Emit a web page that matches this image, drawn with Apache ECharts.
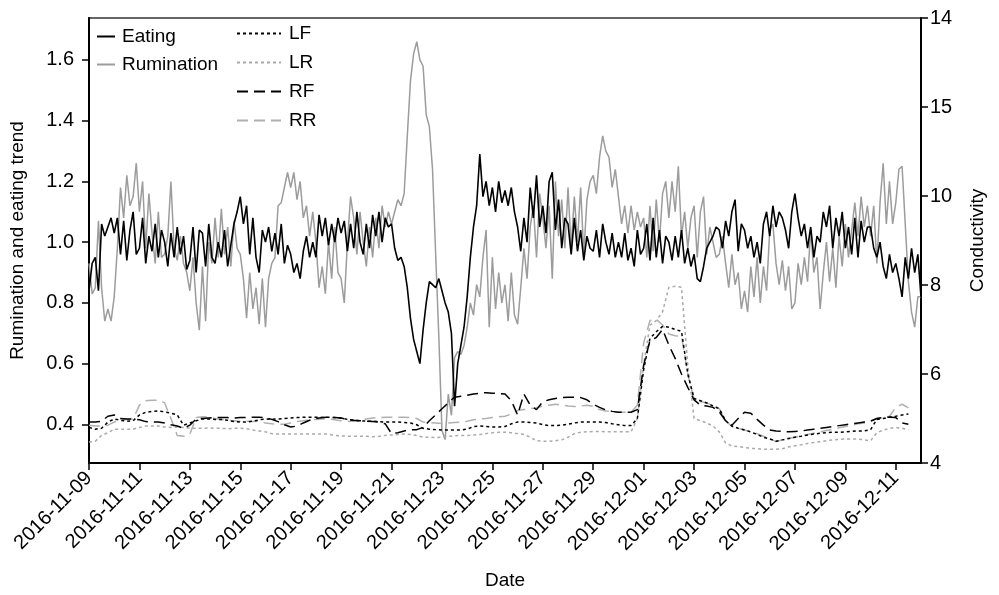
<!DOCTYPE html>
<html><head><meta charset="utf-8">
<script src="https://cdn.jsdelivr.net/npm/echarts@6/dist/echarts.min.js"></script>
<style>html,body{margin:0;padding:0;background:#fff}#c{width:999px;height:595px}</style>
</head><body><div id="c"></div>
<script>
const startDate = '2016-11-09';
const endDate = '2016-12-12';
const xTickLabels = ['2016-11-09','2016-11-11','2016-11-13','2016-11-15','2016-11-17','2016-11-19','2016-11-21','2016-11-23','2016-11-25','2016-11-27','2016-11-29','2016-12-01','2016-12-03','2016-12-05','2016-12-07','2016-12-09','2016-12-11'];
const leftTicks = [0.4, 0.6, 0.8, 1.0, 1.2, 1.4, 1.6];
const rightTickLabels = ['4','6','8','10','15','14'];
const trendStepHours = 3;
const condStepHours = 6;

const eating = [
0.84,0.93,0.95,0.84,1.06,1.02,1.05,1.08,
1.03,1.08,0.96,1.07,0.94,1.04,1.10,0.96,
0.98,1.08,0.93,1.02,0.97,1.06,0.95,1.04,
1.00,0.92,1.03,0.95,1.05,0.96,1.02,0.91,
0.94,1.05,0.90,1.04,1.03,0.92,1.06,0.95,
0.93,1.00,0.95,1.04,0.92,0.99,1.06,1.10,
1.15,1.06,1.12,0.96,1.08,0.95,0.90,1.04,
1.00,1.05,0.97,1.03,0.96,1.06,0.93,0.99,
0.96,0.90,0.93,0.88,0.97,1.02,0.95,1.00,
0.95,1.09,1.02,1.08,0.99,1.06,1.00,1.08,
1.03,1.07,0.97,1.06,0.98,1.10,1.00,0.96,
1.06,0.98,1.09,1.02,1.10,1.00,1.08,1.05,
1.06,0.98,0.94,0.95,0.92,0.85,0.75,0.68,
0.64,0.60,0.71,0.80,0.87,0.86,0.85,0.88,
0.84,0.80,0.77,0.70,0.46,0.60,0.66,0.72,
0.82,0.95,1.05,1.12,1.29,1.15,1.20,1.12,
1.18,1.10,1.20,1.13,1.17,1.12,1.18,1.10,
1.05,0.97,1.08,1.00,1.18,1.08,1.22,1.05,
1.12,1.03,1.20,1.23,1.04,1.14,0.98,1.08,
1.06,0.96,1.08,0.97,1.04,0.94,1.02,0.98,
0.97,1.04,0.95,1.06,1.00,0.96,1.03,0.95,
1.00,0.95,1.03,0.94,0.98,0.92,1.04,0.96,
0.98,1.06,0.94,1.08,0.95,1.04,0.93,1.02,
1.00,0.94,1.02,0.95,1.04,0.93,0.98,0.92,
0.96,0.88,0.87,0.92,0.98,1.00,1.02,1.05,
1.04,0.98,1.07,1.02,1.10,1.14,0.97,1.06,
1.04,0.98,1.02,0.95,1.00,0.93,1.06,1.10,
1.02,1.12,1.05,1.10,1.08,1.04,0.98,1.10,
1.16,1.08,1.02,1.06,0.98,1.05,0.95,1.02,
1.00,1.10,1.05,1.12,0.98,1.08,1.02,1.10,
0.98,1.05,0.96,1.08,0.95,1.07,1.00,1.05,
1.05,0.98,0.95,1.00,0.92,0.88,0.96,0.90,
0.93,0.88,0.82,0.95,0.88,0.98,0.90,0.96,
0.82];

const rumination = [
0.93,0.83,0.85,1.07,0.85,0.74,0.78,0.74,
0.82,0.98,1.18,1.08,1.22,1.12,1.15,1.26,
1.10,1.20,0.98,1.16,1.03,0.93,1.10,0.95,
0.96,1.02,1.20,0.98,0.94,1.02,0.93,0.90,
0.84,0.95,0.80,0.71,0.92,0.74,1.00,0.93,
1.08,0.95,1.11,0.96,1.05,0.92,1.07,0.98,
0.96,0.88,0.75,0.90,0.78,0.85,0.73,0.88,
0.72,0.88,0.93,0.95,1.12,1.13,1.18,1.23,
1.18,1.23,1.14,1.20,1.08,1.12,1.02,1.10,
1.00,0.85,0.92,0.83,1.00,0.88,1.05,0.90,
0.88,0.80,1.00,1.15,1.08,0.96,1.10,1.00,
0.92,1.05,0.95,1.08,0.98,1.12,1.05,1.10,
1.06,1.10,1.14,1.12,1.16,1.35,1.53,1.62,
1.66,1.60,1.58,1.42,1.38,1.24,0.96,0.69,
0.38,0.35,0.50,0.43,0.62,0.64,0.63,0.66,
0.72,0.80,0.76,0.86,0.82,0.95,1.04,0.72,
0.95,0.78,0.90,0.80,0.86,0.74,0.90,0.76,
0.73,0.85,0.98,0.88,1.05,1.12,0.95,1.16,
1.08,0.98,1.12,0.88,1.20,1.02,1.14,0.98,
1.18,0.98,1.15,1.00,1.18,0.96,1.14,1.20,
1.22,1.16,1.28,1.35,1.30,1.28,1.18,1.24,
1.15,1.06,1.12,1.03,1.12,1.04,1.10,1.05,
1.08,0.95,1.12,0.97,1.14,1.00,1.16,1.20,
1.08,1.20,1.10,1.25,1.02,1.10,0.98,1.08,
1.12,0.95,1.10,1.15,0.96,1.05,1.00,0.95,
0.96,1.02,0.93,0.85,0.96,0.86,0.90,0.78,
0.84,0.77,0.92,0.82,0.95,0.80,0.92,0.84,
1.04,1.06,0.93,0.86,0.94,0.84,0.92,0.78,
0.80,0.93,0.86,0.95,0.87,1.04,0.90,0.95,
0.78,0.90,1.00,0.87,0.98,0.85,1.02,0.92,
1.06,0.95,1.04,1.13,1.02,1.15,1.05,1.12,
1.02,1.12,0.93,1.13,1.26,1.06,1.20,1.06,
1.13,1.24,1.25,1.06,0.87,0.77,0.72,0.82,
0.82];

const LF = [
4.80,4.76,4.78,4.92,4.99,4.96,4.94,4.95,5.08,5.14,
5.16,5.17,5.15,5.12,5.08,4.85,4.90,4.95,4.99,4.99,
4.98,4.98,4.96,4.93,4.92,4.92,4.94,4.97,4.99,4.98,
4.99,5.00,5.01,5.02,5.03,5.03,5.03,5.02,5.03,5.02,
5.01,4.98,4.96,4.95,4.94,4.94,4.93,4.92,4.92,4.92,
4.91,4.90,4.86,4.78,4.76,4.75,4.74,4.74,4.74,4.74,
4.76,4.82,4.83,4.82,4.81,4.81,4.82,4.88,4.92,4.92,
4.91,4.90,4.86,4.84,4.84,4.85,4.87,4.90,4.92,4.92,
4.92,4.92,4.91,4.88,4.86,4.84,4.84,5.00,6.10,6.80,
6.95,7.07,7.05,7.00,6.96,6.00,5.45,5.40,5.35,5.28,
5.22,4.95,4.83,4.78,4.74,4.70,4.64,4.58,4.54,4.49,
4.52,4.55,4.58,4.60,4.63,4.65,4.67,4.68,4.69,4.69,
4.70,4.71,4.72,4.72,4.75,4.98,5.00,5.03,5.05,5.08,5.10];

const LR = [
4.47,4.49,4.62,4.68,4.76,4.76,4.76,4.76,4.80,4.83,
4.83,4.83,4.81,4.80,4.81,4.80,4.78,4.78,4.78,4.79,
4.78,4.78,4.77,4.78,4.78,4.77,4.74,4.72,4.70,4.66,
4.65,4.65,4.65,4.65,4.65,4.65,4.65,4.65,4.65,4.62,
4.61,4.60,4.60,4.60,4.60,4.59,4.60,4.62,4.63,4.64,
4.65,4.64,4.62,4.58,4.58,4.57,4.58,4.60,4.61,4.62,
4.62,4.63,4.64,4.66,4.68,4.69,4.69,4.68,4.66,4.64,
4.58,4.50,4.49,4.49,4.50,4.52,4.58,4.66,4.69,4.70,
4.71,4.71,4.70,4.70,4.70,4.70,4.70,5.00,6.20,7.10,
7.20,7.40,7.95,7.97,7.95,6.20,5.00,4.95,4.90,4.83,
4.70,4.45,4.38,4.37,4.35,4.33,4.32,4.31,4.31,4.31,
4.32,4.36,4.39,4.41,4.44,4.46,4.48,4.50,4.52,4.53,
4.54,4.54,4.54,4.52,4.50,4.68,4.74,4.78,4.80,4.78,4.75];

const RF = [
4.92,4.92,4.94,5.05,5.08,5.00,4.99,4.99,4.97,4.93,
4.92,4.92,4.90,4.86,4.83,4.78,4.85,4.99,5.00,5.01,
5.02,5.02,5.02,5.01,5.02,5.02,5.03,5.03,5.02,4.98,
4.93,4.86,4.81,4.83,4.90,4.96,5.00,5.02,5.03,5.02,
5.01,4.98,4.96,4.95,4.94,4.93,4.92,4.88,4.66,4.68,
4.72,4.75,4.75,4.80,4.95,5.08,5.22,5.35,5.48,5.50,
5.52,5.55,5.57,5.58,5.57,5.56,5.55,5.40,5.08,5.55,
5.30,5.20,5.38,5.42,5.45,5.47,5.48,5.48,5.47,5.42,
5.32,5.25,5.19,5.16,5.14,5.14,5.14,5.20,6.20,6.75,
6.82,7.00,6.65,6.35,6.00,5.70,5.42,5.30,5.28,5.25,
5.15,4.95,4.85,5.00,5.14,5.12,4.98,4.85,4.74,4.72,
4.71,4.70,4.71,4.72,4.74,4.76,4.78,4.80,4.82,4.84,
4.86,4.88,4.90,4.92,4.94,5.00,5.02,5.03,5.02,4.90,4.87];

const RR = [
4.85,4.83,4.83,4.85,4.92,4.96,4.98,4.99,5.30,5.40,
5.41,5.41,5.35,5.00,4.62,4.60,4.65,5.02,5.04,5.03,
5.00,4.98,4.96,4.95,4.94,4.94,4.93,4.94,4.90,4.88,
4.87,4.87,4.90,4.93,4.95,4.97,4.98,4.99,4.99,4.97,
4.95,4.94,4.94,4.96,4.99,5.01,5.02,5.03,5.03,5.03,
5.03,5.02,5.00,4.92,4.91,4.90,4.89,4.90,4.91,4.92,
4.94,4.97,4.99,5.00,5.02,5.04,5.05,5.10,5.18,5.20,
5.22,5.24,5.28,5.30,5.32,5.30,5.28,5.27,5.28,5.30,
5.27,5.20,5.17,5.15,5.14,5.14,5.14,5.30,6.70,7.20,
7.23,7.10,6.90,6.86,6.85,6.00,5.42,5.38,5.35,5.30,
5.22,4.95,4.82,4.78,4.74,4.70,4.66,4.60,4.55,4.48,
4.52,4.55,4.58,4.61,4.64,4.67,4.70,4.73,4.76,4.79,
4.82,4.85,4.88,4.90,4.94,5.00,5.03,5.05,5.25,5.32,5.24];

const HOUR = 3600000, DAY = 24 * HOUR;
const t0 = Date.parse(startDate), t1 = Date.parse(endDate);
const toPairs = (arr, stepH) => arr.map((v, i) => [t0 + i * stepH * HOUR, v]);

const FONT = 'Liberation Sans, Arial, sans-serif';
const chart = echarts.init(document.getElementById('c'), null, { renderer: 'canvas' });

const mkLine = (name, data, axis, color, width, type, z) => ({
  name, type: 'line', yAxisIndex: axis, data, showSymbol: false, symbol: 'none',
  lineStyle: { color, width, type }, itemStyle: { color }, z, animation: false
});

chart.setOption({
  animation: false,
  textStyle: { fontFamily: FONT, color: '#000' },
  grid: { left: 89, right: 78, top: 18, bottom: 131, show: true, borderColor: '#333', borderWidth: 1.5 },
  legend: [
    { data: ['Eating', 'Rumination'], orient: 'vertical', left: 91, top: 22, itemWidth: 18, itemHeight: 14, itemGap: 9,
      itemStyle: { opacity: 0 },
      textStyle: { fontSize: 19, fontFamily: FONT, color: '#000', padding: [0, 0, 0, 2] } },
    { data: ['LF', 'LR', 'RF', 'RR'], orient: 'vertical', left: 231, top: 19, itemWidth: 44, itemHeight: 14, itemGap: 10,
      itemStyle: { opacity: 0 },
      textStyle: { fontSize: 19, fontFamily: FONT, color: '#000', padding: [0, 0, 0, 3] } }
  ],
  xAxis: {
    type: 'value', min: t0, max: t1, interval: 2 * DAY,
    name: 'Date', nameLocation: 'middle', nameGap: 108,
    nameTextStyle: { fontSize: 19, fontFamily: FONT, color: '#000' },
    axisLine: { lineStyle: { color: '#000', width: 2 } },
    axisTick: { length: 7, lineStyle: { color: '#000', width: 1.5 } },
    axisLabel: { rotate: 45, fontSize: 20, color: '#000', margin: 12, showMaxLabel: false,
      formatter: v => { const i = Math.round((v - t0) / (2 * DAY)); return xTickLabels[i] || ''; } },
    splitLine: { show: false }
  },
  yAxis: [
    { type: 'value', min: 0.273, max: 1.738, position: 'left',
      name: 'Rumination and eating trend', nameLocation: 'middle', nameGap: 62,
      nameTextStyle: { fontSize: 19, fontFamily: FONT, color: '#000' },
      axisLine: { show: true, lineStyle: { color: '#000', width: 2 } },
      axisTick: { show: true, length: 7, customValues: leftTicks, lineStyle: { color: '#000', width: 1.5 } },
      axisLabel: { fontSize: 20, color: '#000', margin: 15, customValues: leftTicks, formatter: v => v.toFixed(1) },
      splitLine: { show: false } },
    { type: 'value', min: 4, max: 14, interval: 2, position: 'right',
      name: 'Conductivity', nameLocation: 'middle', nameGap: 47,
      nameTextStyle: { fontSize: 19, fontFamily: FONT, color: '#000' },
      axisLine: { show: true, lineStyle: { color: '#000', width: 2 } },
      axisTick: { show: true, length: 7, lineStyle: { color: '#000', width: 1.5 } },
      axisLabel: { fontSize: 20, color: '#000', margin: 9,
        formatter: v => rightTickLabels[Math.round((v - 4) / 2)] || '' },
      splitLine: { show: false } }
  ],
  series: [
    mkLine('Rumination', toPairs(rumination, trendStepHours), 0, '#9c9c9c', 1.5, 'solid', 2),
    mkLine('Eating', toPairs(eating, trendStepHours), 0, '#000000', 1.6, 'solid', 3),
    mkLine('LR', toPairs(LR, condStepHours), 1, '#aaaaaa', 1.5, [3, 3], 2),
    mkLine('RR', toPairs(RR, condStepHours), 1, '#b0b0b0', 1.5, [11, 6], 2),
    mkLine('LF', toPairs(LF, condStepHours), 1, '#000000', 1.5, [3, 3], 3),
    mkLine('RF', toPairs(RF, condStepHours), 1, '#000000', 1.5, [11, 6], 3)
  ]
});
</script></body></html>
